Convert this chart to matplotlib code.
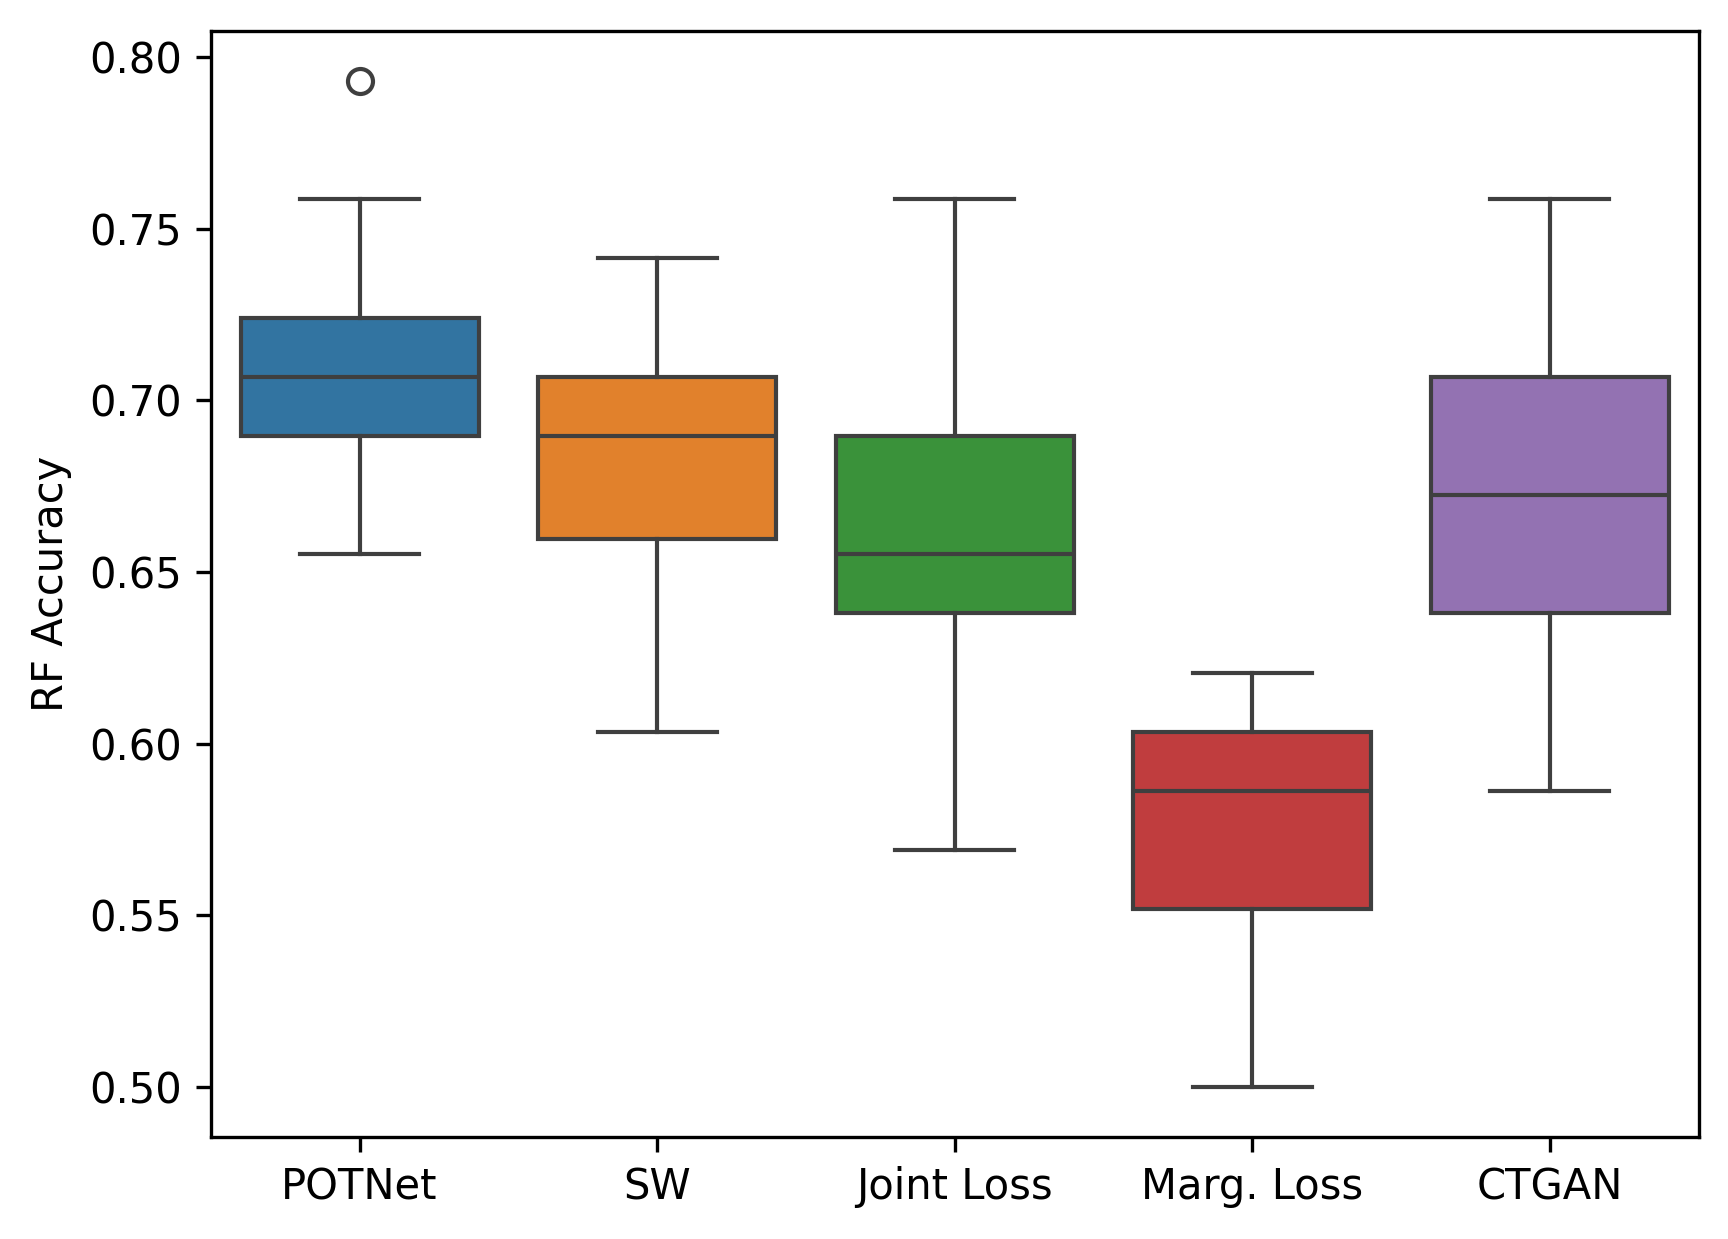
import matplotlib
matplotlib.use("Agg")
import matplotlib.pyplot as plt
from matplotlib.ticker import FormatStrFormatter

methods = ["POTNet", "SW", "Joint Loss", "Marg. Loss", "CTGAN"]
whislo = [0.6552, 0.6034, 0.5690, 0.5000, 0.5862]
q1 = [0.6897, 0.6595, 0.6379, 0.5517, 0.6379]
med = [0.7069, 0.6897, 0.6552, 0.5862, 0.6724]
q3 = [0.7241, 0.7069, 0.6897, 0.6034, 0.7069]
whishi = [0.7586, 0.7414, 0.7586, 0.6207, 0.7586]
fliers = [[0.7931], [], [], [], []]
colors = ["#3274a1", "#e1812c", "#3a923a", "#c03d3e", "#9372b2"]

stats = []
for i, name in enumerate(methods):
    stats.append(dict(label=name, whislo=whislo[i], q1=q1[i], med=med[i],
                      q3=q3[i], whishi=whishi[i], fliers=fliers[i]))

fig = plt.figure(figsize=(5.76, 4.13), dpi=300)
ax = fig.add_axes([0.122, 0.0823, 0.861, 0.893])
edge = "#3f3f3f"
lw = 1.0
bp = ax.bxp(stats, positions=range(len(methods)), widths=0.8, patch_artist=True,
            capwidths=0.4,
            boxprops=dict(edgecolor=edge, linewidth=lw),
            medianprops=dict(color=edge, linewidth=lw),
            whiskerprops=dict(color=edge, linewidth=lw),
            capprops=dict(color=edge, linewidth=lw),
            flierprops=dict(marker="o", markerfacecolor="none",
                            markeredgecolor=edge, markersize=6,
                            markeredgewidth=lw))
for patch, c in zip(bp["boxes"], colors):
    patch.set_facecolor(c)

ax.set_xlim(-0.5, len(methods) - 0.5)
ax.set_ylim(0.4853, 0.8078)
ax.set_yticks([0.50, 0.55, 0.60, 0.65, 0.70, 0.75, 0.80])
ax.yaxis.set_major_formatter(FormatStrFormatter("%.2f"))
ax.set_xticks(range(len(methods)))
ax.set_xticklabels(methods)
ax.set_ylabel("RF Accuracy")

fig.savefig("out.png", dpi=300)
